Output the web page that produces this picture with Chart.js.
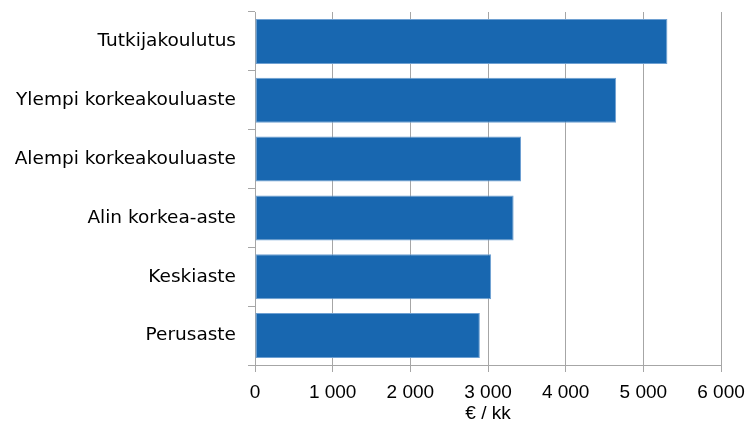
<!DOCTYPE html>
<html>
<head>
<meta charset="utf-8">
<script src="https://cdn.jsdelivr.net/npm/chart.js@4/dist/chart.umd.min.js"></script>
<style>
  html, body { margin: 0; padding: 0; background: #fff; }
  #wrap { width: 746px; height: 425px; position: relative; }
</style>
</head>
<body>
<div id="wrap"><canvas id="palkka_chart"></canvas></div>
<script>
const categories = ['Tutkijakoulutus', 'Ylempi korkeakouluaste', 'Alempi korkeakouluaste', 'Alin korkea-aste', 'Keskiaste', 'Perusaste'];
const salaries = [5310, 4650, 3425, 3330, 3040, 2895];
const xTicks = [0, 1000, 2000, 3000, 4000, 5000, 6000];
const xTitle = '€ / kk';

function prepareChart()
{
    const gridColor = '#a6a6a6';
    const font = { family: "'Liberation Sans', Arial, sans-serif", size: 19 };
    const labelFont = { family: "'DejaVu Sans', sans-serif", size: 18.5 };

    const data = {
        labels: categories,
        datasets: [{
            label: xTitle,
            backgroundColor: 'rgb(24, 103, 176)',
            borderColor: 'rgb(110, 160, 210)',
            borderWidth: 1,
            borderSkipped: false,
            barPercentage: 0.765,
            categoryPercentage: 1,
            data: salaries,
        }]
    };

    const config = {
        type: 'bar',
        data: data,
        options: {
            indexAxis: 'y',
            maintainAspectRatio: false,
            responsive: true,
            animation: false,
            layout: { padding: { left: 0, right: 25, top: 12, bottom: 0 } },
            plugins: {
                legend: { display: false },
                tooltip: { enabled: false }
            },
            scales: {
                x: {
                    min: 0,
                    max: 6000,
                    afterBuildTicks: function(scale) {
                        scale.ticks = xTicks.map(v => ({ value: v }));
                    },
                    afterFit: function(scale) {
                        scale.height = 60;
                        scale.paddingLeft = 0;
                        scale.paddingRight = 0;
                    },
                    grid: { color: gridColor, lineWidth: 1, tickLength: 7 },
                    border: { color: gridColor, width: 1 },
                    ticks: {
                        color: '#000',
                        font: font,
                        padding: 9,
                        maxRotation: 0,
                        callback: v => v.toLocaleString('fi-FI').replace(/\s/g, ' ')
                    },
                    title: {
                        display: true,
                        text: xTitle,
                        color: '#000',
                        font: font,
                        padding: { top: 0, bottom: 0 }
                    }
                },
                y: {
                    afterFit: function(scale) {
                        scale.width = 255;
                        scale.paddingTop = 0;
                        scale.paddingBottom = 0;
                    },
                    grid: { color: gridColor, drawOnChartArea: false, tickLength: 7, offset: true },
                    border: { color: gridColor, width: 1 },
                    ticks: { color: '#000', font: labelFont, padding: 12 }
                }
            }
        }
    };

    new Chart(document.getElementById('palkka_chart'), config);
}

window.addEventListener('load', prepareChart);
</script>
</body>
</html>
